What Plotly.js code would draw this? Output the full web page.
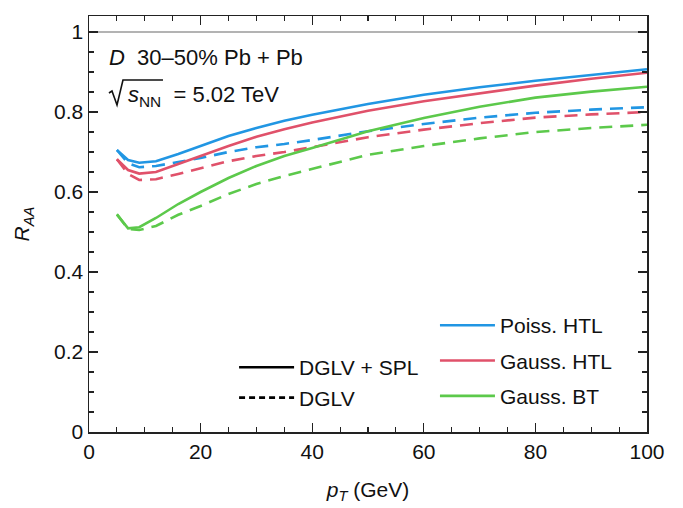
<!DOCTYPE html>
<html>
<head>
<meta charset="utf-8">
<script src="https://cdn.plot.ly/plotly-3.0.1.min.js"></script>
<style>html,body{margin:0;padding:0;background:#fff;}#chart{width:683px;height:508px;}</style>
</head>
<body>
<div id="chart"></div>
<script>
// pT values (GeV)
const pT = [5, 7, 9, 12, 16, 20, 25, 30, 35, 40, 50, 60, 70, 80, 90, 100];

// DGLV + SPL (solid)
const poissHTL_SPL = [0.705, 0.680, 0.673, 0.677, 0.695, 0.715, 0.740, 0.760, 0.778, 0.793, 0.820, 0.843, 0.862, 0.878, 0.893, 0.907];
const gaussHTL_SPL = [0.682, 0.655, 0.646, 0.650, 0.670, 0.690, 0.715, 0.738, 0.757, 0.774, 0.803, 0.827, 0.847, 0.866, 0.883, 0.898];
const gaussBT_SPL  = [0.544, 0.509, 0.512, 0.535, 0.570, 0.600, 0.635, 0.665, 0.690, 0.710, 0.752, 0.785, 0.813, 0.836, 0.851, 0.863];

// DGLV (dashed)
const poissHTL_DGLV = [0.705, 0.672, 0.662, 0.665, 0.675, 0.685, 0.700, 0.712, 0.720, 0.730, 0.752, 0.770, 0.786, 0.798, 0.806, 0.812];
const gaussHTL_DGLV = [0.682, 0.645, 0.630, 0.632, 0.645, 0.660, 0.677, 0.690, 0.700, 0.712, 0.737, 0.756, 0.772, 0.786, 0.794, 0.800];
const gaussBT_DGLV  = [0.544, 0.508, 0.505, 0.515, 0.543, 0.565, 0.595, 0.620, 0.640, 0.658, 0.693, 0.715, 0.734, 0.750, 0.760, 0.768];

// reference line R_AA = 1
const refX = [0, 100];
const refY = [1, 1];

const seriesNames = ["Poiss. HTL", "Gauss. HTL", "Gauss. BT"];
const styleNames = ["DGLV + SPL", "DGLV"];

const BLUE = "#2196e3", RED = "#e0516a", GREEN = "#5cc94b";
const FONT = "Liberation Sans, Arial, Helvetica, sans-serif";
const DASH = "13px,8px";

const traces = [
  {x: refX, y: refY, mode: "lines", line: {color: "#b3b3b3", width: 2}, showlegend: false, hoverinfo: "skip"},
  {x: pT, y: poissHTL_DGLV, mode: "lines", line: {color: BLUE, width: 2.6, dash: DASH}, showlegend: false},
  {x: pT, y: gaussHTL_DGLV, mode: "lines", line: {color: RED, width: 2.6, dash: DASH}, showlegend: false},
  {x: pT, y: gaussBT_DGLV, mode: "lines", line: {color: GREEN, width: 2.6, dash: DASH}, showlegend: false},
  {x: pT, y: poissHTL_SPL, mode: "lines", name: seriesNames[0], legendgroup: "a", line: {color: BLUE, width: 2.6}},
  {x: pT, y: gaussHTL_SPL, mode: "lines", name: seriesNames[1], legendgroup: "b", line: {color: RED, width: 2.6}},
  {x: pT, y: gaussBT_SPL, mode: "lines", name: seriesNames[2], legendgroup: "c", line: {color: GREEN, width: 2.6}},
  {x: [null], y: [null], mode: "lines", name: styleNames[0], legend: "legend2", line: {color: "#000", width: 2.6}},
  {x: [null], y: [null], mode: "lines", name: styleNames[1], legend: "legend2", line: {color: "#000", width: 2.6, dash: "6px,4px"}}
];

const axisCommon = {
  showgrid: false, zeroline: false, showline: true, linecolor: "#222", linewidth: 1.5,
  mirror: "ticks", ticks: "inside", ticklen: 9, tickwidth: 1.3, tickcolor: "#222",
  tickfont: {family: FONT, size: 21, color: "#111"}
};

const layout = {
  width: 683, height: 508,
  margin: {l: 89, r: 36, t: 16, b: 76},
  paper_bgcolor: "#fff", plot_bgcolor: "#fff",
  font: {family: FONT, size: 21, color: "#111"},
  xaxis: Object.assign({}, axisCommon, {
    range: [0, 100], dtick: 20, tick0: 0,
    minor: {dtick: 5, ticks: "inside", ticklen: 5, tickwidth: 1.1, tickcolor: "#222"},
    title: {text: "<i>p</i><sub><i>T</i></sub> (GeV)", font: {family: FONT, size: 21, color: "#111"}, standoff: 20}
  }),
  yaxis: Object.assign({}, axisCommon, {
    range: [0, 1.04], dtick: 0.2, tick0: 0,
    tickformat: "~g",
    minor: {dtick: 0.05, ticks: "inside", ticklen: 5, tickwidth: 1.1, tickcolor: "#222"},
    title: {text: "<i>R</i><sub><i>AA</i></sub>", font: {family: FONT, size: 21, color: "#111"}, standoff: 18}
  }),
  legend: {
    x: 0.62, y: 0.305, xanchor: "left", yanchor: "top",
    bgcolor: "rgba(0,0,0,0)", font: {family: FONT, size: 21, color: "#111"},
    itemwidth: 55, tracegroupgap: 5, traceorder: "grouped"
  },
  legend2: {
    x: 0.26, y: 0.204, xanchor: "left", yanchor: "top",
    bgcolor: "rgba(0,0,0,0)", font: {family: FONT, size: 21, color: "#111"},
    itemwidth: 55
  },
  annotations: [
    {xref: "paper", yref: "paper", x: 0.032, y: 0.901, xanchor: "left", yanchor: "middle", showarrow: false,
     text: "<i>D</i>  30–50% Pb + Pb", font: {family: FONT, size: 22, color: "#111"}},
    {xref: "paper", yref: "paper", x: 0.066, y: 0.808, xanchor: "left", yanchor: "middle", showarrow: false,
     text: "<i>s</i><sub>NN</sub>&nbsp;&nbsp;= 5.02 TeV", font: {family: FONT, size: 22, color: "#111"}}
  ],
  shapes: [
    {type: "path", xref: "paper", yref: "paper",
     path: "M0.0358,0.8149 L0.0412,0.8197 L0.0502,0.7861 L0.0609,0.8462 L0.1326,0.8462",
     line: {color: "#111", width: 1.6}}
  ]
};

Plotly.newPlot("chart", traces, layout, {displayModeBar: false, staticPlot: true});
</script>
</body>
</html>
